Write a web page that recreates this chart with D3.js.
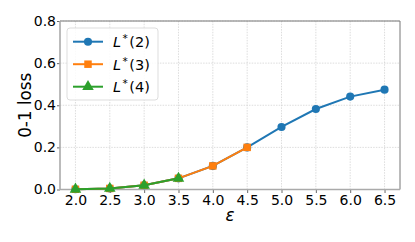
<!DOCTYPE html>
<html>
<head>
<meta charset="utf-8">
<script src="https://cdn.jsdelivr.net/npm/d3@7"></script>
<style>
body { margin: 0; background: #fff; }
text { font-family: "DejaVu Sans", sans-serif; }
.grid line { stroke: #d4d4d4; stroke-width: 0.8; stroke-dasharray: 1.5,1.2; }
</style>
</head>
<body>
<div id="chart"></div>
<script>
var eps = [2.0, 2.5, 3.0, 3.5, 4.0, 4.5, 5.0, 5.5, 6.0, 6.5];
var loss2 = [0.001, 0.005, 0.020, 0.053, 0.112, 0.200, 0.297, 0.382, 0.441, 0.474];
var loss3 = [0.001, 0.005, 0.020, 0.053, 0.112, 0.200];
var loss4 = [0.001, 0.005, 0.020, 0.053];
var xTicks = [2.0, 2.5, 3.0, 3.5, 4.0, 4.5, 5.0, 5.5, 6.0, 6.5];
var yTicks = [0.0, 0.2, 0.4, 0.6, 0.8];

var width = 415, height = 242;
var pLeft = 60, pRight = 400, pTop = 21, pBottom = 189.5;

var svg = d3.select("#chart").append("svg")
	.attr("width", width)
	.attr("height", height);

var x = d3.scaleLinear().domain([1.775, 6.725]).range([pLeft, pRight]);
var y = d3.scaleLinear().domain([0, 0.8]).range([pBottom, pTop]);

// grille
var grid = svg.append("g").attr("class", "grid");
grid.selectAll(".gx").data(xTicks).enter().append("line")
	.attr("x1", function(d){return x(d);}).attr("x2", function(d){return x(d);})
	.attr("y1", pTop).attr("y2", pBottom);
grid.selectAll(".gy").data(yTicks).enter().append("line")
	.attr("y1", function(d){return y(d);}).attr("y2", function(d){return y(d);})
	.attr("x1", pLeft).attr("x2", pRight);

// axes
var xAxis = svg.append("g")
	.attr("transform", "translate(0," + pBottom + ")")
	.call(d3.axisBottom(x).tickValues(xTicks).tickFormat(d3.format(".1f")).tickSize(3.5).tickPadding(2.5));
var yAxis = svg.append("g")
	.attr("transform", "translate(" + pLeft + ",0)")
	.call(d3.axisLeft(y).tickValues(yTicks).tickFormat(d3.format(".1f")).tickSize(3).tickPadding(1));
[xAxis, yAxis].forEach(function(a){
	a.select(".domain").remove();
	a.attr("font-size", null).attr("font-family", null);
	a.selectAll("text").attr("font-size", 14).attr("fill", "#000");
	a.selectAll("line").attr("stroke", "#444").attr("stroke-width", 0.8);
});

// cadre
svg.append("line").attr("x1", pLeft).attr("x2", pRight).attr("y1", pTop).attr("y2", pTop)
	.attr("stroke", "#777").attr("stroke-width", 1);
svg.append("line").attr("x1", pRight).attr("x2", pRight).attr("y1", pTop).attr("y2", pBottom)
	.attr("stroke", "#777").attr("stroke-width", 1);
svg.append("line").attr("x1", pLeft).attr("x2", pLeft).attr("y1", pTop).attr("y2", pBottom)
	.attr("stroke", "#aaa").attr("stroke-width", 1.6);
svg.append("line").attr("x1", pLeft).attr("x2", pRight).attr("y1", pBottom).attr("y2", pBottom)
	.attr("stroke", "#aaa").attr("stroke-width", 1.6);

var series = [
	{name: "2", color: "#1f77b4", marker: "circle", values: loss2},
	{name: "3", color: "#ff7f0e", marker: "square", values: loss3},
	{name: "4", color: "#2ca02c", marker: "triangle", values: loss4}
];

var line = d3.line()
	.x(function(d, i){return x(eps[i]);})
	.y(function(d){return y(d);});

function symbolFor(m){
	if (m == "circle") return d3.symbol().type(d3.symbolCircle).size(52);
	if (m == "square") return d3.symbol().type(d3.symbolSquare).size(56);
	return d3.symbol().type(d3.symbolTriangle).size(58);
}

series.forEach(function(s){
	svg.append("path")
		.datum(s.values)
		.attr("fill", "none")
		.attr("stroke", s.color)
		.attr("stroke-width", 2)
		.attr("d", line);
	svg.selectAll(".m" + s.name).data(s.values).enter().append("path")
		.attr("d", symbolFor(s.marker)())
		.attr("fill", s.color)
		.attr("transform", function(d, i){return "translate(" + x(eps[i]) + "," + y(d) + ")";});
});

// légende
var lg = svg.append("g").attr("transform", "translate(67,28)");
lg.append("rect").attr("width", 91).attr("height", 72).attr("rx", 3)
	.attr("fill", "#fff").attr("fill-opacity", 0.85).attr("stroke", "#ddd");
series.forEach(function(s, i){
	var yy = 13.7 + i * 22.5;
	lg.append("line").attr("x1", 6).attr("x2", 36).attr("y1", yy).attr("y2", yy)
		.attr("stroke", s.color).attr("stroke-width", 2);
	lg.append("path").attr("d", symbolFor(s.marker)()).attr("fill", s.color)
		.attr("transform", "translate(21," + yy + ")");
	var t = lg.append("text").attr("x", 46).attr("y", yy + 5.3).attr("font-size", 14.5);
	t.append("tspan").attr("font-style", "italic").text("L");
	t.append("tspan").attr("font-size", 10.5).attr("dx", 1.5).attr("dy", -5).text("*");
	t.append("tspan").attr("dx", 1.5).attr("dy", 5).text("(" + s.name + ")");
});

// titres des axes
svg.append("text")
	.attr("transform", "translate(31," + ((pTop + pBottom) / 2) + ") rotate(-90)")
	.attr("text-anchor", "middle")
	.attr("font-size", 16.8)
	.text("0-1 loss");
svg.append("text")
	.attr("x", (pLeft + pRight) / 2).attr("y", 221)
	.attr("text-anchor", "middle")
	.attr("font-size", 16.8)
	.attr("font-style", "italic")
	.text("ε");
</script>
</body>
</html>
